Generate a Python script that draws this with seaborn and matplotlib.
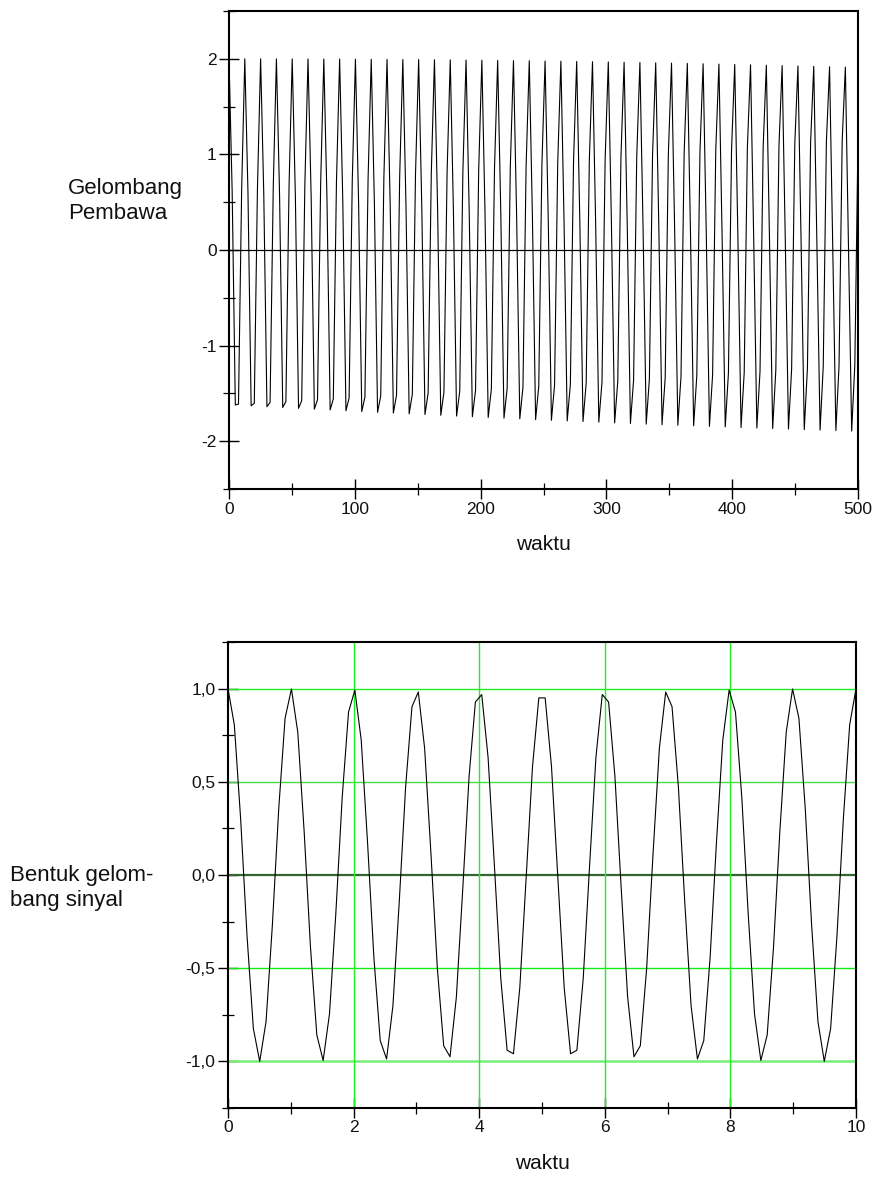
import numpy as np
import pandas as pd
import matplotlib
matplotlib.use("Agg")
import matplotlib.pyplot as plt
import seaborn as sns
from matplotlib.ticker import FixedLocator, FuncFormatter

# ---------------- data ----------------
# carrier wave (Gelombang Pembawa), 200 samples over waktu 0..500
carrier_values = [
    2.000, 0.615, -1.621, -1.612, 0.629,
    2.000, 0.601, -1.630, -1.603, 0.643,
    2.000, 0.586, -1.639, -1.594, 0.658,
    1.999, 0.571, -1.647, -1.585, 0.672,
    1.999, 0.557, -1.656, -1.576, 0.687,
    1.999, 0.542, -1.665, -1.566, 0.701,
    1.998, 0.528, -1.673, -1.557, 0.715,
    1.997, 0.513, -1.681, -1.547, 0.729,
    1.996, 0.498, -1.690, -1.538, 0.744,
    1.995, 0.483, -1.698, -1.528, 0.758,
    1.994, 0.469, -1.706, -1.518, 0.772,
    1.993, 0.454, -1.714, -1.508, 0.786,
    1.992, 0.439, -1.721, -1.498, 0.800,
    1.990, 0.424, -1.729, -1.488, 0.814,
    1.989, 0.409, -1.737, -1.478, 0.828,
    1.987, 0.394, -1.744, -1.468, 0.842,
    1.985, 0.379, -1.752, -1.457, 0.855,
    1.983, 0.364, -1.759, -1.447, 0.869,
    1.981, 0.350, -1.766, -1.436, 0.883,
    1.979, 0.335, -1.774, -1.426, 0.897,
    1.977, 0.320, -1.781, -1.415, 0.910,
    1.975, 0.304, -1.788, -1.404, 0.924,
    1.972, 0.290, -1.794, -1.394, 0.937,
    1.969, 0.274, -1.801, -1.383, 0.951,
    1.967, 0.259, -1.808, -1.372, 0.964,
    1.964, 0.244, -1.814, -1.361, 0.978,
    1.961, 0.229, -1.821, -1.349, 0.991,
    1.958, 0.214, -1.827, -1.338, 1.004,
    1.955, 0.199, -1.833, -1.327, 1.017,
    1.952, 0.184, -1.839, -1.315, 1.030,
    1.948, 0.168, -1.845, -1.304, 1.043,
    1.945, 0.153, -1.851, -1.292, 1.056,
    1.941, 0.138, -1.857, -1.281, 1.069,
    1.937, 0.123, -1.862, -1.269, 1.082,
    1.933, 0.108, -1.868, -1.257, 1.095,
    1.929, 0.093, -1.873, -1.246, 1.107,
    1.925, 0.077, -1.879, -1.234, 1.121,
    1.921, 0.062, -1.884, -1.222, 1.133,
    1.917, 0.047, -1.889, -1.210, 1.145,
    1.913, 0.032, -1.894, -1.198, 1.158,
]
carrier_t_range = (0, 500)

# signal wave (Bentuk gelombang sinyal), 100 samples over waktu 0..10
signal_values = [
    1.000, 0.805, 0.297, -0.327, -0.824, -1.000, -0.786, -0.266, 0.357, 0.841,
    0.998, 0.766, 0.236, -0.386, -0.858, -0.995, -0.745, -0.205, 0.415, 0.874,
    0.992, 0.724, 0.174, -0.444, -0.889, -0.987, -0.701, -0.142, 0.472, 0.903,
    0.982, 0.679, 0.111, -0.500, -0.916, -0.975, -0.655, -0.079, 0.527, 0.928,
    0.968, 0.631, 0.048, -0.554, -0.940, -0.959, -0.605, -0.016, 0.580, 0.950,
    0.950, 0.580, -0.016, -0.605, -0.959, -0.940, -0.554, 0.048, 0.631, 0.968,
    0.928, 0.527, -0.079, -0.655, -0.975, -0.916, -0.500, 0.111, 0.679, 0.982,
    0.903, 0.472, -0.142, -0.701, -0.987, -0.889, -0.444, 0.174, 0.724, 0.992,
    0.874, 0.415, -0.205, -0.745, -0.995, -0.858, -0.386, 0.236, 0.766, 0.998,
    0.841, 0.357, -0.266, -0.786, -1.000, -0.824, -0.327, 0.297, 0.805, 1.000,
]
signal_t_range = (0, 10)

top_xticks = [0, 100, 200, 300, 400, 500]
top_yticks = [-2, -1, 0, 1, 2]
bot_xticks = [0, 2, 4, 6, 8, 10]
bot_yticks = [-1.0, -0.5, 0.0, 0.5, 1.0]
x_label = "waktu"
top_ylabel = "Gelombang\nPembawa"
bot_ylabel = "Bentuk gelom-\nbang sinyal"

# ---------------- style ----------------
sns.set_theme(style="white")
plt.rcParams['font.family'] = ['Liberation Sans', 'DejaVu Sans']
plt.rcParams['axes.unicode_minus'] = False
FS = 12.5
FS_X = 15
FS_Y = 16

W, H = 879, 1180
fig = plt.figure(figsize=(W / 100, H / 100), dpi=100)
fig.patch.set_facecolor('white')

ax1 = fig.add_axes([229 / W, 1 - 489 / H, 629 / W, 478 / H])
ax2 = fig.add_axes([228 / W, 1 - 1108 / H, 628 / W, 466 / H])

df_car = pd.DataFrame({
    'waktu': np.linspace(carrier_t_range[0], carrier_t_range[1], len(carrier_values)),
    'amp': carrier_values,
})
df_sig = pd.DataFrame({
    'waktu': np.linspace(signal_t_range[0], signal_t_range[1], len(signal_values)),
    'amp': signal_values,
})

# ---- top: carrier ----
ax1.axhline(0, color='black', lw=0.9, zorder=1)
sns.lineplot(data=df_car, x='waktu', y='amp', ax=ax1, color='black',
             linewidth=0.8, estimator=None, sort=False, zorder=3)
ax1.set_xlim(0, 500)
ax1.set_ylim(-2.5, 2.5)
ax1.xaxis.set_major_locator(FixedLocator(top_xticks))
ax1.xaxis.set_minor_locator(FixedLocator([50, 150, 250, 350, 450]))
ax1.yaxis.set_major_locator(FixedLocator(top_yticks))
ax1.yaxis.set_minor_locator(FixedLocator([-2.5, -1.5, -0.5, 0.5, 1.5, 2.5]))
ax1.yaxis.set_major_formatter(FuncFormatter(lambda v, p: f"{int(round(v))}"))
ax1.xaxis.set_major_formatter(FuncFormatter(lambda v, p: f"{int(round(v))}"))

# ---- bottom: signal ----
grid_h = {1.0: ('#22ee22', 1.0), 0.5: ('#44dd44', 1.0), 0.0: ('#336633', 1.6),
          -0.5: ('#11ee11', 1.0), -1.0: ('#77ee77', 1.8)}
for yv, (c, lw) in grid_h.items():
    ax2.axhline(yv, color=c, lw=lw, zorder=1)
for xv in [2, 4, 6, 8]:
    ax2.axvline(xv, color='#22ee22', lw=1.0, zorder=1)
sns.lineplot(data=df_sig, x='waktu', y='amp', ax=ax2, color='black',
             linewidth=0.8, estimator=None, sort=False, zorder=3)
ax2.set_xlim(0, 10)
ax2.set_ylim(-1.25, 1.25)
ax2.xaxis.set_major_locator(FixedLocator(bot_xticks))
ax2.xaxis.set_minor_locator(FixedLocator([1, 3, 5, 7, 9]))
ax2.yaxis.set_major_locator(FixedLocator(bot_yticks))
ax2.yaxis.set_minor_locator(FixedLocator([-1.25, -0.75, -0.25, 0.25, 0.75, 1.25]))
ax2.yaxis.set_major_formatter(FuncFormatter(lambda v, p: f"{v:.1f}".replace('.', ',')))
ax2.xaxis.set_major_formatter(FuncFormatter(lambda v, p: f"{int(round(v))}"))

for ax in (ax1, ax2):
    ax.set_facecolor('white')
    for sp in ax.spines.values():
        sp.set_color('black')
        sp.set_linewidth(1.5)
        sp.set_visible(True)
    ax.tick_params(which='major', direction='inout', length=14, width=1.0,
                   color='black', labelsize=FS, labelcolor='#111111', pad=2,
                   bottom=True, left=True, top=False, right=False)
    ax.tick_params(which='minor', direction='inout', length=8, width=0.9,
                   color='black', bottom=True, left=True, top=False, right=False)
    ax.set_xlabel(x_label, fontsize=FS_X, labelpad=13, color='#111111')
    ax.set_ylabel('')
    ax.grid(False)

fig.text(68 / W, 1 - 201 / H, top_ylabel, ha='left', va='center',
         fontsize=FS_Y, color='#111111', linespacing=1.3)
fig.text(10 / W, 1 - 888 / H, bot_ylabel, ha='left', va='center',
         fontsize=FS_Y, color='#111111', linespacing=1.3)

fig.savefig('out.png', dpi=100, facecolor='white')
